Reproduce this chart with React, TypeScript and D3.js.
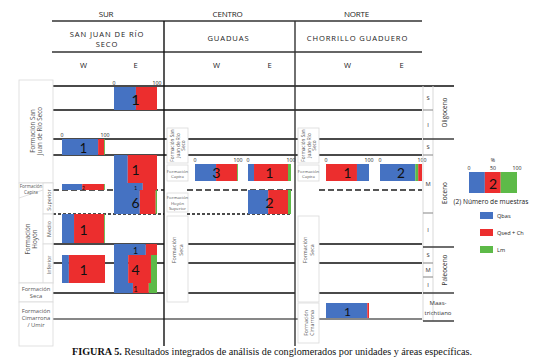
import React from 'react';
import * as d3 from 'd3';

// ---------- DATA ----------
const regions = ['SUR', 'CENTRO', 'NORTE'];
const localities = [['SAN JUAN DE RÍO', 'SECO'], ['GUADUAS'], ['CHORRILLO GUADUERO']];
const sides = ['W', 'E'];
const components = ['Qbas', 'Qsed + Ch', 'Lm'];
const scaleTicks = [0, 100];
const legendTicks = [0, 50, 100];
const legendValues = [33, 33, 34];
const legendN = 2;
const stages = ['S', 'I', 'S', 'M', 'I', 'S', 'M', 'I'];
const epochs = ['Oligoceno', 'Eoceno', 'Paleoceno'];
const caption = 'Resultados integrados de análisis de conglomerados por unidades y áreas específicas.';

// bar records: locality, side, stratigraphic slot, Qbas, Qsed+Ch, Lm, n samples
const bars = [
  { loc: 0, side: 'E', unit: 'sjrsTop', qbas: 51, qsed: 49, lm: 0, n: 1, ticks: true },
  { loc: 0, side: 'W', unit: 'sjrsMid', qbas: 84, qsed: 14, lm: 2, n: 1, ticks: true },
  { loc: 0, side: 'E', unit: 'sjrsBase', qbas: 32, qsed: 68, lm: 0, n: 1 },
  { loc: 0, side: 'E', unit: 'capiraE', qbas: 67, qsed: 33, lm: 0, n: 1 },
  { loc: 0, side: 'W', unit: 'capiraW', qbas: 47, qsed: 51, lm: 2, n: 2 },
  { loc: 0, side: 'E', unit: 'hoyonSup', qbas: 60, qsed: 37, lm: 3, n: 6 },
  { loc: 0, side: 'W', unit: 'hoyonMed', qbas: 28, qsed: 70, lm: 2, n: 1 },
  { loc: 0, side: 'W', unit: 'hoyonInfW', qbas: 16, qsed: 84, lm: 0, n: 1 },
  { loc: 0, side: 'E', unit: 'hoyonInfTop', qbas: 74, qsed: 26, lm: 0, n: 1 },
  { loc: 0, side: 'E', unit: 'hoyonInf', qbas: 33, qsed: 53, lm: 14, n: 4 },
  { loc: 0, side: 'E', unit: 'seca', qbas: 44, qsed: 37, lm: 19, n: 1 },
  { loc: 1, side: 'W', unit: 'capira', qbas: 49, qsed: 49, lm: 2, n: 3, ticks: true },
  { loc: 1, side: 'E', unit: 'capira', qbas: 14, qsed: 79, lm: 7, n: 1, ticks: true },
  { loc: 1, side: 'E', unit: 'hoyonSup', qbas: 47, qsed: 46, lm: 7, n: 2 },
  { loc: 2, side: 'W', unit: 'capira', qbas: 28, qsed: 72, lm: 0, n: 1, ticks: true, order: ['qsed', 'qbas', 'lm'] },
  { loc: 2, side: 'E', unit: 'capira', qbas: 84, qsed: 9, lm: 7, n: 2, ticks: true, order: ['qbas', 'lm', 'qsed'] },
  { loc: 2, side: 'W', unit: 'maas', qbas: 96, qsed: 4, lm: 0, n: 1 },
];

// ---------- LAYOUT ----------
const W = 543, H = 360;
const FONT = "'Open Sans', 'DejaVu Sans', sans-serif";
const NUMFONT = "Lato, 'Open Sans', sans-serif";
const colX: Record<string, number> = { '0W': 62, '0E': 114, '1W': 195, '1E': 248, '2W': 326, '2E': 380 };
const barW = 43;
const slot: Record<string, [number, number]> = {
  sjrsTop: [87, 110], sjrsMid: [139, 155], sjrsBase: [155, 183], capiraE: [183, 190],
  capiraW: [184, 190], hoyonSup: [190, 214], hoyonMed: [214, 243], hoyonInfW: [255, 283],
  hoyonInfTop: [244, 255], hoyonInf: [255, 283], seca: [283, 293], capira: [164, 181], maas: [303, 318],
};
const regionX: [number, number][] = [[52, 164], [164, 295], [295, 422]];
const color = d3.scaleOrdinal<string, string>(['qbas', 'qsed', 'lm'], ['#4572C2', '#EC2E2E', '#5DBA48']);
const stageBounds = [86, 110, 139, 155, 213, 247, 263, 277, 293];
const epochBounds: [number, number][] = [[86, 139], [139, 247], [247, 293]];

const LINE = '#4a4a4a';
const BOX = '#d9d9d9';
const TXT = '#555';

function Box({ x, y, w, h }: { x: number; y: number; w: number; h: number }) {
  return <rect x={x} y={y} width={w} height={h} fill="#fff" stroke={BOX} strokeWidth={0.8} />;
}

function Lines({ lines, x, y, size, rotate, lh }: { lines: string[]; x: number; y: number; size: number; rotate?: boolean; lh?: number }) {
  const step = lh ?? size * 1.15;
  const off = -((lines.length - 1) * step) / 2;
  return (
    <text transform={`translate(${x},${y})${rotate ? ' rotate(-90)' : ''}`} fontFamily={FONT} fontSize={size} fill={TXT} textAnchor="middle">
      {lines.map((l, i) => (
        <tspan key={i} x={0} y={off + i * step} dominantBaseline="central">{l}</tspan>
      ))}
    </text>
  );
}

export default function App() {
  const hline = (y: number, x1: number, x2: number, opts: any = {}) => (
    <line key={`${y}-${x1}-${x2}`} x1={x1} x2={x2} y1={y} y2={y} stroke={opts.stroke ?? LINE} strokeWidth={opts.w ?? 1.8} strokeDasharray={opts.dash} />
  );
  const secs: [number, number][] = [[53, 164], [187, 295], [319, 422]];
  return (
    <svg width={W} height={H} style={{ position: 'absolute', left: 0, top: 0, background: '#fff' }}>
      {/* headers */}
      {regions.map((r, i) => (
        <text key={r} x={(regionX[i][0] + regionX[i][1]) / 2 - 2} y={17} fontFamily={FONT} fontSize={8} fill="#222" textAnchor="middle" letterSpacing={-0.2}>{r}</text>
      ))}
      {localities.map((l, i) => (
        <text key={i} x={(regionX[i][0] + regionX[i][1]) / 2 - 1} y={l.length > 1 ? 37 : 41} fontFamily={FONT} fontSize={7.6} fill="#222" textAnchor="middle" letterSpacing={0.9}>
          {l.map((s, j) => <tspan key={j} x={(regionX[i][0] + regionX[i][1]) / 2 - 1} dy={j === 0 ? 0 : 10}>{s}</tspan>)}
        </text>
      ))}
      {[0, 1, 2].map(i => sides.map(s => (
        <text key={`${i}${s}`} x={colX[`${i}${s}`] + barW / 2} y={68} fontFamily={FONT} fontSize={7.6} fill="#222" textAnchor="middle">{s}</text>
      )))}
      {hline(21, 52, 422, { stroke: '#333', w: 1.3 })}
      {hline(52, 52, 422, { stroke: '#333', w: 1.3 })}
      {hline(86, 52, 454, { stroke: LINE, w: 1.8 })}

      {/* horizontal unit lines */}
      {hline(110, 52, 422)}
      {hline(139, 52, 422)}
      {hline(155, 52, 422)}
      {secs.map(([a, b]) => hline(190, a, b, { dash: '6,3', w: 1.8, stroke: '#555' }))}
      {hline(214, 53, 164, { dash: '3,2', w: 1.4, stroke: '#111' })}
      {hline(214, 187, 291, { dash: '3,2', w: 1.4, stroke: '#111' })}
      {[244, 263, 293].map(y => secs.map(([a, b]) => hline(y, a, b)))}
      {hline(319, 53, 422, { stroke: '#111', w: 1.1 })}

      {/* bars */}
      {bars.map((b, i) => {
        const x0 = colX[`${b.loc}${b.side}`];
        const w = b.loc === 2 && b.side === 'E' ? 42 : barW;
        const xs = d3.scaleLinear().domain([0, 100]).range([x0, x0 + w]);
        const [y0, y1] = slot[b.unit];
        const order = b.order ?? ['qbas', 'qsed', 'lm'];
        let acc = 0;
        const segs = order.map(k => {
          const v = (b as any)[k] as number;
          const s = { k, a: acc, b: acc + v };
          acc += v;
          return s;
        });
        const h = y1 - y0;
        return (
          <g key={i}>
            {segs.filter(s => s.b > s.a).map(s => (
              <rect key={s.k} x={xs(s.a)} y={y0} width={xs(s.b) - xs(s.a)} height={h} fill={color(s.k)} />
            ))}
            <text x={xs(50)} y={(y0 + y1) / 2 + 0.5} fontFamily={NUMFONT} fontSize={Math.min(14, h * 0.8)} fill="#111" textAnchor="middle" dominantBaseline="central">{b.n}</text>
            {b.ticks && scaleTicks.map(t => (
              <text key={t} x={xs(t)} y={y0 - 2} fontFamily={FONT} fontSize={5.2} fill="#222" textAnchor="middle">{t}</text>
            ))}
          </g>
        );
      })}

      {/* vertical separators */}
      <line x1={164} x2={164} y1={21} y2={346} stroke="#111" strokeWidth={1.4} />
      <line x1={295} x2={295} y1={21} y2={346} stroke="#333" strokeWidth={1.4} />

      {/* SUR formation boxes */}
      <Box x={19} y={80} w={34} h={103} />
      <Lines lines={['Formación San', 'Juan de Río Seco']} x={36} y={131} size={6.3} rotate lh={7} />
      <Box x={19} y={183} w={34} h={100} />
      <Box x={43} y={183} w={10} h={31} />
      <Box x={43} y={214} w={10} h={30} />
      <Box x={43} y={244} w={10} h={39} />
      <line x1={19} y1={198} x2={43} y2={190} stroke={BOX} strokeWidth={0.8} />
      <Lines lines={['Formación', 'Capira']} x={31} y={189} size={4.6} lh={5.2} />
      <Lines lines={['Superior']} x={48.5} y={200} size={5.4} rotate />
      <Lines lines={['Medio']} x={48.5} y={229} size={5.4} rotate />
      <Lines lines={['Inferior']} x={48.5} y={265} size={5.4} rotate />
      <Lines lines={['Formación', 'Hoyón']} x={31} y={239} size={6.3} rotate lh={7} />
      <Box x={19} y={283} w={34} h={19} />
      <Lines lines={['Formación', 'Seca']} x={36} y={292.5} size={5.8} lh={6.5} />
      <Box x={19} y={302} w={34} h={44} />
      <Lines lines={['Formación', 'Cimarrona', '/ Umir']} x={36} y={318} size={5.8} lh={6.8} />

      {/* CENTRO / NORTE formation boxes */}
      {[167, 298].map((bx, k) => (
        <g key={bx}>
          <Box x={bx} y={128} w={21} h={35} />
          <Lines lines={['Formación San', 'Juan de Río', 'Seco']} x={bx + 10.5} y={145.5} size={4.7} rotate lh={5.3} />
          <Box x={bx} y={165} w={21} h={16} />
          <Lines lines={['Formación', 'Capira']} x={bx + 10.5} y={173} size={4.3} lh={5} />
          <Box x={bx} y={216} w={21} h={86} />
          <Lines lines={['Formación', 'Seca']} x={bx + 10.5} y={250} size={5.4} rotate lh={6.2} />
          {k === 0 && <>
            <Box x={bx} y={193} w={21} h={19} />
            <Lines lines={['Formación', 'Hoyón', 'Superior']} x={bx + 10.5} y={202.5} size={4.3} lh={5.3} />
          </>}
          {k === 1 && <>
            <Box x={bx} y={303} w={21} h={40} />
            <Lines lines={['Formación', 'Cimarrona']} x={bx + 10.5} y={323} size={5.2} rotate lh={6} />
          </>}
        </g>
      ))}

      {/* time scale */}
      <line x1={423} x2={423} y1={86} y2={321} stroke={BOX} strokeWidth={1} />
      <line x1={433} x2={433} y1={86} y2={321} stroke={BOX} strokeWidth={1} />
      {stageBounds.slice(1).map(y => {
        const full = [139, 247, 293].includes(y);
        return <line key={y} x1={423} x2={full ? 454 : 433} y1={y} y2={y} stroke={full ? LINE : '#999'} strokeWidth={full ? 1.6 : 1.2} />;
      })}
      <line x1={423} x2={454} y1={321} y2={321} stroke={LINE} strokeWidth={1.6} />
      {stages.map((s, i) => (
        <text key={i} x={428} y={(stageBounds[i] + stageBounds[i + 1]) / 2} fontFamily={FONT} fontSize={5.8} fill="#333" textAnchor="middle" dominantBaseline="central">{s}</text>
      ))}
      {epochs.map((e, i) => (
        <text key={e} transform={`translate(444,${(epochBounds[i][0] + epochBounds[i][1]) / 2}) rotate(-90)`} fontFamily={FONT} fontSize={6.4} fill="#333" textAnchor="middle" dominantBaseline="central">{e}</text>
      ))}
      <text x={438} y={305} fontFamily={FONT} fontSize={6} fill="#333" textAnchor="middle">Maas-</text>
      <text x={438} y={315} fontFamily={FONT} fontSize={6} fill="#333" textAnchor="middle">trichtiano</text>

      {/* legend */}
      {(() => {
        const lx = d3.scaleLinear().domain([0, 100]).range([469, 517]);
        let acc = 0;
        const keys = ['qbas', 'qsed', 'lm'];
        return (
          <g>
            <text x={lx(50)} y={162} fontFamily={FONT} fontSize={5.2} fill="#222" textAnchor="middle">%</text>
            {legendTicks.map(t => (
              <text key={t} x={lx(t)} y={170} fontFamily={FONT} fontSize={5.2} fill="#222" textAnchor="middle">{t}</text>
            ))}
            {legendValues.map((v, i) => {
              const r = <rect key={i} x={lx(acc)} y={172} width={lx(acc + v) - lx(acc)} height={21} fill={color(keys[i])} />;
              acc += v;
              return r;
            })}
            <text x={lx(50)} y={183} fontFamily={NUMFONT} fontSize={14} fill="#111" textAnchor="middle" dominantBaseline="central">{legendN}</text>
            <text x={491} y={204} fontFamily={FONT} fontSize={6.6} fill="#222" textAnchor="middle">(2) Número de muestras</text>
            {components.map((c, i) => (
              <g key={c}>
                <rect x={480} y={212 + i * 17} width={13} height={7} fill={color(keys[i])} />
                <text x={497} y={215.5 + i * 17} fontFamily={FONT} fontSize={5.6} fill="#222" dominantBaseline="central">{c}</text>
              </g>
            ))}
          </g>
        );
      })()}

      {/* caption */}
      <text x={272} y={355} fontFamily="'Liberation Serif', 'DejaVu Serif', serif" fontSize={10.2} fill="#111" textAnchor="middle">
        <tspan fontWeight="bold">FIGURA 5.</tspan> {caption}
      </text>
    </svg>
  );
}
